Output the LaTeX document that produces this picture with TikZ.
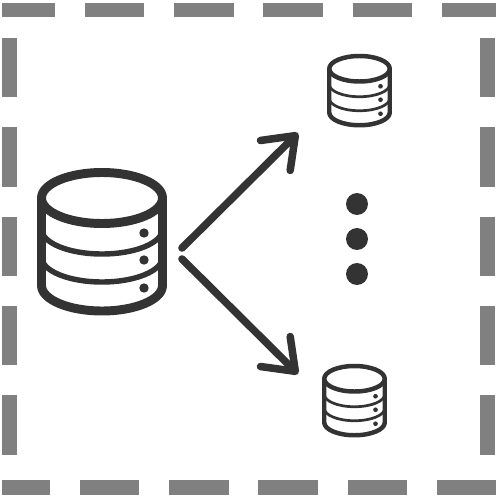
\documentclass[tikz,border=0pt]{standalone}
\usetikzlibrary{arrows.meta}
\definecolor{icondark}{HTML}{333333}
\definecolor{framegray}{HTML}{808080}
\tikzset{
    framedash/.style={line width=8.3pt, framegray, dash pattern=on 59.5*0.569pt off 29.8*0.569pt},
    fanarrow/.style={line width=4.3pt, icondark, line cap=round, -{Straight Barb[round, length=16pt, width=24pt]}},
    stackdot/.style={circle, fill=icondark, minimum size=12.5pt, inner sep=0pt},
}
% #1 name, #2 centre, #3 size relative to the big stack
\newcommand{\dbstack}[3]{
    \node[minimum width={#3*73.7pt}, minimum height={#3*83.3pt}, inner sep=0pt] (#1) at (#2) {};
    \begin{scope}[shift={(#2)}, scale=#3, icondark, line join=round]
        \draw[line width={#3*5.1pt}] (0, -43.5) ellipse [x radius=60.5, y radius=25.5];
        \draw[line width={#3*5.1pt}] (-60.5, -43.5) -- (-60.5, 44) arc [start angle=180, end angle=0, x radius=60.5, y radius=25.5] -- (60.5, -43.5);
        \draw[line width={#3*3.1pt}] (-60.5, -12.5) arc [start angle=180, end angle=0, x radius=60.5, y radius=25];
        \draw[line width={#3*3.1pt}] (-60.5, 15.5) arc [start angle=180, end angle=0, x radius=60.5, y radius=25];
        \foreach \doty in {-8.5, 18.5, 46.5}
            \fill (42, \doty) circle (4.7);
    \end{scope}
}
\begin{document}
\begin{tikzpicture}[x=0.02cm, y=-0.02cm]
    \useasboundingbox (0, 0) rectangle (500, 500);
    % frame
    \draw[framedash, dash phase=6.5*0.569pt] (2, 10) -- (496, 10);
    \draw[framedash, dash phase=11.5*0.569pt] (2, 487.5) -- (496, 487.5);
    \draw[framedash] (9.5, 38) -- (9.5, 456);
    \draw[framedash] (487.5, 38) -- (487.5, 456);
    % stacks
    \dbstack{bigdb}{102, 241.5}{1}
    \dbstack{topdb}{359.5, 90.5}{0.5}
    \dbstack{lowdb}{354.5, 400.5}{0.5}
    % arrows
    \coordinate (upstart) at (182, 248);
    \coordinate (uptip) at (298, 133);
    \coordinate (downstart) at (182, 259);
    \coordinate (downtip) at (298, 374);
    \draw[fanarrow] (upstart) -- (uptip);
    \draw[fanarrow] (downstart) -- (downtip);
    % dots
    \node[stackdot] (dotone) at (357, 204) {};
    \node[stackdot] (dottwo) at (357, 239) {};
    \node[stackdot] (dotthree) at (357, 274) {};
\end{tikzpicture}
\end{document}
